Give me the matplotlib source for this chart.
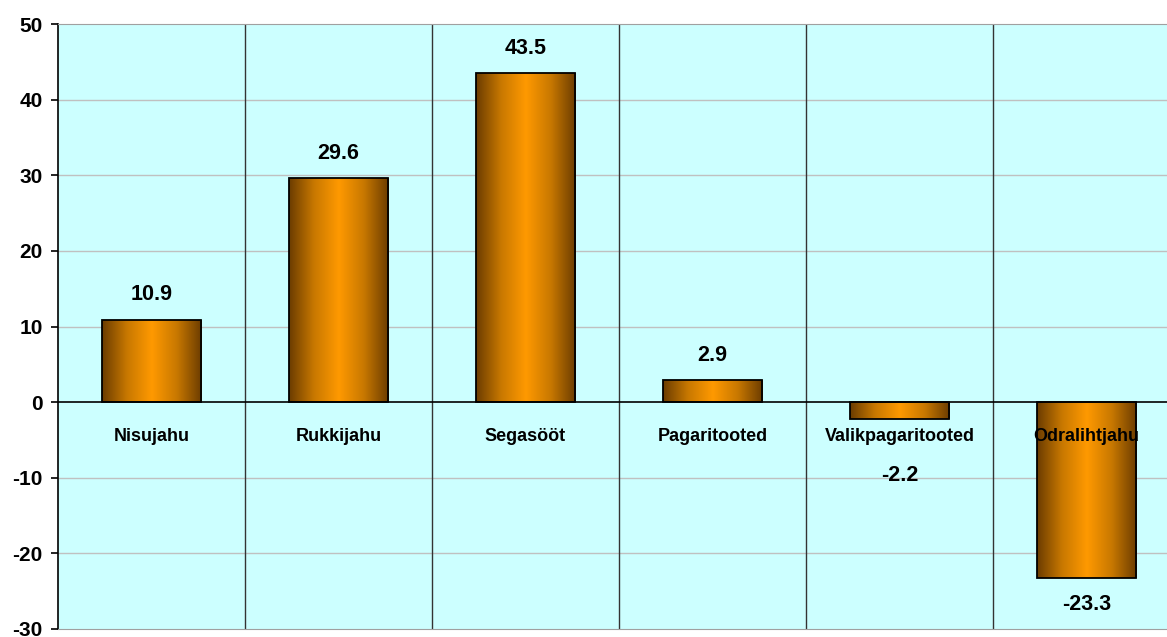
import numpy as np
import matplotlib.pyplot as plt

categories = ['Nisujahu', 'Rukkijahu', 'Segasööt', 'Pagaritooted',
              'Valikpagaritooted', 'Odralihtjahu']
values = [10.9, 29.6, 43.5, 2.9, -2.2, -23.3]
value_labels = ['10.9', '29.6', '43.5', '2.9', '-2.2', '-23.3']
yticks = [-30, -20, -10, 0, 10, 20, 30, 40, 50]

plt.rcParams['font.family'] = ['Liberation Sans', 'DejaVu Sans']
plt.rcParams['font.weight'] = 'bold'
plt.rcParams['axes.unicode_minus'] = False

fig = plt.figure(figsize=(11.67, 6.37), dpi=100)
ax = fig.add_axes([58 / 1167, 1 - 629 / 637, 1122 / 1167, 605 / 637])
ax.set_facecolor('#CCFFFF')

x = np.arange(len(categories))
bars = ax.bar(x, values, width=0.53, color='none', edgecolor='black',
              linewidth=1.3, zorder=3)

# horizontal gradient: dark brown edges, orange centre
cmap = plt.matplotlib.colors.LinearSegmentedColormap.from_list(
    'brown_orange', ['#6B3C00', '#C87800', '#FF9900', '#C87800', '#6B3C00'])
grad = np.linspace(0, 1, 256).reshape(1, -1)
for b in bars:
    x0, y0 = b.get_x(), b.get_y()
    w, h = b.get_width(), b.get_height()
    im = ax.imshow(grad, cmap=cmap, aspect='auto', zorder=2,
                   extent=[x0, x0 + w, min(y0, y0 + h), max(y0, y0 + h)])
    im.set_clip_path(b)

ax.set_xlim(-0.5, len(categories) - 0.5)
ax.set_ylim(-30, 50)
ax.set_yticks(yticks)
ax.set_xticks([])
ax.tick_params(axis='y', labelsize=15, length=5, width=1.2, pad=6)

for yv in yticks:
    if yv not in (0, -30, 50):
        ax.axhline(yv, color='#C0C0C0', lw=1, zorder=1)
ax.axhline(0, color='black', lw=1.2, zorder=4)
for xv in np.arange(0.5, len(categories) - 0.5):
    ax.axvline(xv, color='#333333', lw=1, zorder=1)

for s in ['top', 'right', 'bottom']:
    ax.spines[s].set_color('#A0A0A0')
ax.spines['left'].set_color('black')
ax.spines['left'].set_linewidth(1.2)

for xi, name in zip(x, categories):
    ax.annotate(name, (xi, 0), xytext=(0, -25), textcoords='offset points',
                ha='center', va='center', fontsize=13, fontweight='bold',
                zorder=5)

for xi, v, lab in zip(x, values, value_labels):
    off = 18 if v >= 0 else -19
    if v < 0 and v > -5:
        off = -41
    ax.annotate(lab, (xi, v), xytext=(0, off), textcoords='offset points',
                ha='center', va='center', fontsize=15.5, fontweight='bold',
                zorder=5)

plt.savefig('out.png', dpi=100)
